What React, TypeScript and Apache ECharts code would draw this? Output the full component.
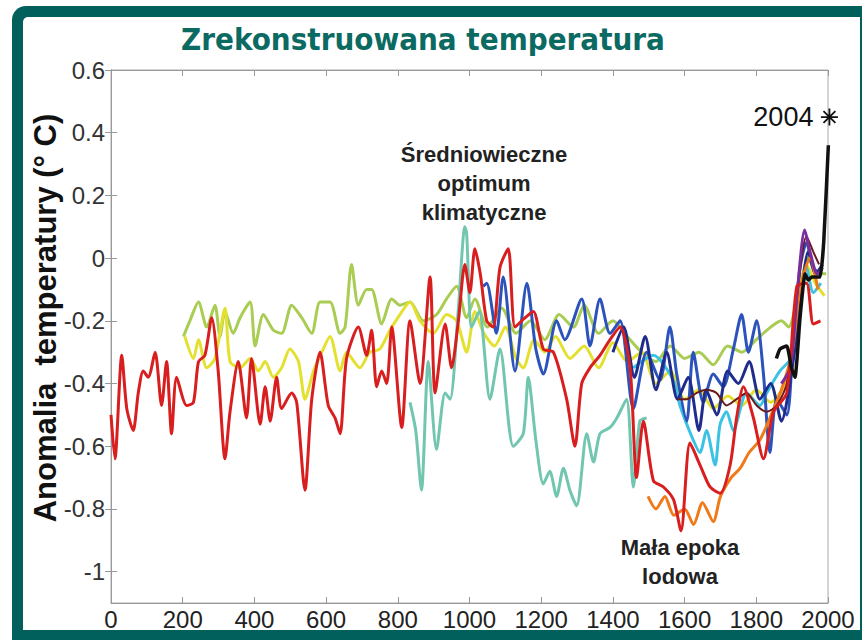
import React, { useEffect, useRef } from "react";
import * as echarts from "echarts";

// ---- data (year, anomaly °C) ----
const redYears = [0, 11, 30, 44, 62, 76, 90, 104, 123, 141, 155, 169, 183, 211, 230, 244, 262, 281, 299, 318, 332, 355, 378, 392, 416, 430, 444, 462, 476, 504, 518, 541, 560, 583, 606, 625, 639, 657, 690, 713, 727, 741, 755, 769, 783, 811, 834, 862, 890, 904, 932, 950, 969, 987, 1001, 1015, 1030, 1048, 1066, 1085, 1108, 1127, 1155, 1178, 1206, 1234, 1271, 1294, 1313, 1336, 1364, 1392, 1420, 1448, 1466, 1485, 1513, 1541, 1569, 1590, 1615, 1643, 1671, 1699, 1727, 1745, 1764, 1792, 1820, 1848, 1885, 1913, 1940, 1959, 1979];
const redVals = [-0.5, -0.64, -0.31, -0.48, -0.55, -0.43, -0.36, -0.38, -0.3, -0.47, -0.33, -0.56, -0.38, -0.47, -0.46, -0.33, -0.31, -0.19, -0.36, -0.64, -0.49, -0.33, -0.51, -0.32, -0.53, -0.41, -0.52, -0.38, -0.48, -0.43, -0.46, -0.74, -0.45, -0.3, -0.47, -0.51, -0.56, -0.32, -0.22, -0.31, -0.23, -0.41, -0.36, -0.4, -0.22, -0.54, -0.2, -0.4, -0.06, -0.43, -0.21, -0.35, -0.2, -0.02, -0.11, 0.03, -0.05, -0.2, -0.22, -0.03, 0.03, -0.22, -0.19, -0.17, -0.29, -0.3, -0.45, -0.6, -0.4, -0.35, -0.31, -0.26, -0.22, -0.35, -0.7, -0.52, -0.71, -0.73, -0.77, -0.87, -0.59, -0.66, -0.73, -0.75, -0.66, -0.51, -0.41, -0.51, -0.64, -0.49, -0.43, -0.09, -0.08, -0.21, -0.2];

const greenYears = [202, 220, 244, 267, 290, 304, 318, 341, 360, 388, 402, 425, 453, 476, 504, 532, 560, 583, 611, 639, 653, 671, 690, 713, 727, 755, 783, 806, 834, 871, 908, 936, 964, 992, 1015, 1050, 1090, 1130, 1170, 1210, 1250, 1290, 1320, 1360, 1400, 1440, 1480, 1520, 1560, 1600, 1640, 1680, 1720, 1760, 1800, 1840, 1870, 1890, 1920, 1945, 1970, 1995];
const greenVals = [-0.25, -0.2, -0.14, -0.22, -0.15, -0.25, -0.17, -0.24, -0.19, -0.14, -0.28, -0.18, -0.23, -0.24, -0.15, -0.19, -0.24, -0.14, -0.14, -0.24, -0.22, -0.02, -0.15, -0.1, -0.1, -0.21, -0.13, -0.15, -0.14, -0.2, -0.18, -0.13, -0.09, -0.19, -0.13, -0.22, -0.16, -0.24, -0.2, -0.26, -0.18, -0.22, -0.15, -0.24, -0.2, -0.25, -0.3, -0.33, -0.28, -0.32, -0.3, -0.34, -0.28, -0.3, -0.26, -0.22, -0.2, -0.22, -0.1, 0.0, -0.05, -0.05];

const yellowYears = [206, 230, 244, 267, 290, 318, 332, 360, 388, 411, 430, 453, 476, 499, 523, 541, 565, 588, 611, 639, 657, 694, 722, 750, 778, 806, 834, 862, 899, 936, 964, 992, 1015, 1040, 1070, 1100, 1130, 1150, 1180, 1210, 1240, 1280, 1320, 1360, 1400, 1440, 1480, 1520, 1560, 1600, 1640, 1680, 1720, 1760, 1800, 1840, 1880, 1910, 1940, 1965, 1990];
const yellowVals = [-0.25, -0.32, -0.26, -0.35, -0.32, -0.16, -0.33, -0.35, -0.32, -0.36, -0.33, -0.38, -0.35, -0.29, -0.33, -0.45, -0.36, -0.3, -0.25, -0.36, -0.3, -0.35, -0.3, -0.29, -0.23, -0.18, -0.14, -0.2, -0.24, -0.18, -0.2, -0.3, -0.17, -0.24, -0.28, -0.22, -0.32, -0.35, -0.26, -0.3, -0.25, -0.32, -0.28, -0.35, -0.27, -0.33, -0.3, -0.4, -0.36, -0.45, -0.42, -0.48, -0.44, -0.47, -0.42, -0.46, -0.4, -0.22, -0.02, -0.08, -0.12];

const tealYears = [834, 850, 866, 885, 908, 932, 946, 969, 987, 992, 1006, 1027, 1057, 1085, 1122, 1150, 1164, 1185, 1206, 1224, 1243, 1262, 1280, 1299, 1327, 1346, 1364, 1392, 1411, 1438, 1457, 1475, 1494];
const tealVals = [-0.46, -0.55, -0.74, -0.33, -0.61, -0.43, -0.45, -0.16, 0.1, 0.08, -0.22, -0.17, -0.45, -0.29, -0.6, -0.56, -0.38, -0.58, -0.72, -0.68, -0.76, -0.67, -0.74, -0.79, -0.56, -0.65, -0.56, -0.54, -0.51, -0.45, -0.73, -0.52, -0.51];

const blueYears = [1038, 1048, 1075, 1094, 1127, 1160, 1185, 1206, 1243, 1266, 1313, 1336, 1364, 1392, 1420, 1457, 1494, 1531, 1559, 1578, 1606, 1624, 1652, 1680, 1708, 1736, 1759, 1778, 1801, 1820, 1838, 1857, 1885, 1904, 1922, 1940, 1959, 1980];
const blueVals = [-0.09, -0.08, -0.24, -0.06, -0.36, -0.08, -0.29, -0.37, -0.2, -0.26, -0.13, -0.28, -0.13, -0.24, -0.2, -0.48, -0.3, -0.39, -0.22, -0.37, -0.52, -0.3, -0.46, -0.37, -0.41, -0.29, -0.18, -0.3, -0.2, -0.37, -0.62, -0.45, -0.5, -0.24, -0.03, 0.05, -0.03, -0.05];

const navyYears = [1400, 1430, 1460, 1490, 1520, 1550, 1580, 1610, 1640, 1660, 1690, 1720, 1750, 1780, 1810, 1840, 1870, 1900, 1925, 1945, 1965, 1985];
const navyVals = [-0.3, -0.22, -0.38, -0.25, -0.42, -0.3, -0.45, -0.38, -0.55, -0.42, -0.5, -0.36, -0.4, -0.33, -0.45, -0.4, -0.52, -0.35, -0.12, 0.02, -0.05, -0.02];

const cyanYears = [1457, 1513, 1569, 1587, 1624, 1643, 1661, 1685, 1699, 1717, 1736, 1773, 1810, 1829, 1866, 1904, 1922, 1940, 1959, 1980];
const cyanVals = [-0.35, -0.31, -0.39, -0.47, -0.58, -0.62, -0.55, -0.66, -0.53, -0.49, -0.55, -0.43, -0.47, -0.43, -0.36, -0.31, -0.15, -0.03, -0.11, -0.08];

const orangeYears = [1498, 1520, 1545, 1570, 1600, 1625, 1650, 1680, 1700, 1730, 1755, 1780, 1810, 1838, 1870, 1900, 1922, 1950, 1972];
const orangeVals = [-0.76, -0.8, -0.76, -0.82, -0.8, -0.85, -0.78, -0.84, -0.76, -0.7, -0.67, -0.62, -0.58, -0.51, -0.42, -0.3, -0.1, 0.0, -0.1];

const brownYears = [1580, 1606, 1634, 1661, 1689, 1717, 1745, 1773, 1801, 1829, 1857, 1885, 1913, 1940, 1959, 1975];
const brownVals = [-0.45, -0.45, -0.43, -0.42, -0.43, -0.47, -0.45, -0.43, -0.47, -0.49, -0.47, -0.4, -0.13, 0.07, 0.02, -0.02];

const purpleYears = [1870, 1895, 1915, 1935, 1950, 1970, 1985];
const purpleVals = [-0.4, -0.35, -0.1, 0.09, 0.02, -0.05, -0.03];

const blackYears = [1856, 1866, 1885, 1898, 1908, 1922, 1936, 1945, 1955, 1968, 1978, 1988, 2001];
const blackVals = [-0.32, -0.29, -0.28, -0.35, -0.38, -0.19, -0.05, -0.07, -0.06, -0.06, -0.06, 0.05, 0.36];

const markYear = 2004;
const markVal = 0.45;

const xTicks = [0, 200, 400, 600, 800, 1000, 1200, 1400, 1600, 1800, 2000];
const yTicks = [-1, -0.8, -0.6, -0.4, -0.2, 0, 0.2, 0.4, 0.6];

const zip = (xs: number[], ys: number[]) => xs.map((x, i) => [x, ys[i]]);

const TEAL = "#02605c";

export default function App() {
  const ref = useRef<HTMLDivElement>(null);
  useEffect(() => {
    if (!ref.current) return;
    const chart = echarts.init(ref.current, null, { renderer: "svg" });
    const line = (name: string, xs: number[], ys: number[], color: string, width = 3) => ({
      name,
      type: "line",
      data: zip(xs, ys),
      smooth: 0.25,
      showSymbol: false,
      symbol: "none",
      lineStyle: { color, width },
      z: 3,
    });
    const tickFmt = (v: number) => (Math.abs(v) < 1e-9 ? "0" : String(+v.toFixed(1)));
    const yAxisCommon = {
      type: "value",
      min: -1.1,
      max: 0.6,
      splitLine: { show: false },
      axisLine: { show: true, lineStyle: { color: "#999", width: 1 } },
      axisTick: { show: true, inside: true, length: 6, customValues: yTicks, lineStyle: { color: "#999" } },
    };
    const xAxisCommon = {
      type: "value",
      min: 0,
      max: 2000,
      interval: 200,
      splitLine: { show: false },
      axisLine: { show: true, onZero: false, lineStyle: { color: "#999", width: 1 } },
      axisTick: { show: true, inside: true, length: 6, lineStyle: { color: "#999" } },
    };
    chart.setOption({
      animation: false,
      backgroundColor: "#ffffff",
      grid: { left: 111, right: 34, top: 70, bottom: 37, show: true, borderColor: "#aaa", borderWidth: 1, backgroundColor: "#fff" },
      xAxis: [
        {
          ...xAxisCommon,
          position: "bottom",
          axisLabel: {
            show: true,
            margin: 4,
            fontSize: 24,
            color: "#222",
            hideOverlap: false,
            showMaxLabel: true,
            showMinLabel: true,
            fontFamily: "'Liberation Sans', Arial, sans-serif",
            customValues: xTicks,
            formatter: (v: number) => String(v),
          },
        },
        { ...xAxisCommon, position: "top", axisLabel: { show: false } },
      ],
      yAxis: [
        {
          ...yAxisCommon,
          position: "left",
          axisLabel: {
            show: true,
            margin: 6,
            fontSize: 24,
            color: "#333",
            fontFamily: "'Liberation Sans', Arial, sans-serif",
            customValues: yTicks,
            formatter: tickFmt,
          },
        },
        { ...yAxisCommon, position: "right", axisLabel: { show: false } },
      ],
      series: [
        line("green", greenYears, greenVals, "#a9cc52"),
        line("yellow", yellowYears, yellowVals, "#e4e030"),
        line("teal", tealYears, tealVals, "#72c6b0"),
        line("cyan", cyanYears, cyanVals, "#3cc2e2"),
        line("blue", blueYears, blueVals, "#2c52bc"),
        line("navy", navyYears, navyVals, "#202c8c"),
        line("orange", orangeYears, orangeVals, "#f07a1a"),
        line("brown", brownYears, brownVals, "#6a1a1a", 2),
        line("purple", purpleYears, purpleVals, "#7a2e9e"),
        line("red", redYears, redVals, "#d81e1e"),
        { ...line("black", blackYears, blackVals, "#111", 3.5), smooth: 0.15, z: 4, clip: false },
        {
          name: "2004",
          type: "scatter",
          clip: false,
          data: [[markYear, markVal]],
          symbol: "path://M10,0L10,20M0,10L20,10M3,3L17,17M3,17L17,3",
          symbolSize: 17,
          itemStyle: { color: "none", borderColor: "#111", borderWidth: 1.8, opacity: 1 },
          label: {
            show: true,
            position: "left",
            distance: 5,
            formatter: "2004",
            fontSize: 27,
            color: "#111",
            opacity: 1,
            fontFamily: "'Liberation Sans', Arial, sans-serif",
          },
          z: 5,
        },
      ],
      graphic: [
        { type: "rect", z: -100, silent: true, shape: { x: 12, y: 6, width: 900, height: 700, r: 14 }, style: { fill: TEAL } },
        { type: "rect", z: -99, silent: true, shape: { x: 23, y: 17, width: 837, height: 613, r: [5, 0, 0, 0] }, style: { fill: "#ffffff" } },
        {
          type: "text",
          z: 100,
          x: 423,
          y: 39,
          style: {
            text: "Zrekonstruowana temperatura",
            fill: "#0b6a62",
            font: "bold 31px 'DejaVu Sans Condensed', 'DejaVu Sans', sans-serif",
            align: "center",
            verticalAlign: "middle",
          },
        },
        {
          type: "text",
          z: 100,
          x: 45,
          y: 318,
          rotation: Math.PI / 2,
          style: {
            text: "Anomalia  temperatury (° C)",
            fill: "#111",
            font: "bold 31px 'Liberation Sans', Arial, sans-serif",
            align: "center",
            verticalAlign: "middle",
          },
        },
        {
          type: "text",
          z: 100,
          x: 484,
          y: 183,
          style: {
            text: "Średniowieczne\noptimum\nklimatyczne",
            fill: "#222",
            font: "bold 22px 'Liberation Sans', Arial, sans-serif",
            lineHeight: 29,
            align: "center",
            verticalAlign: "middle",
          },
        },
        {
          type: "text",
          z: 100,
          x: 680,
          y: 562,
          style: {
            text: "Mała epoka\nlodowa",
            fill: "#222",
            font: "bold 22px 'Liberation Sans', Arial, sans-serif",
            lineHeight: 29,
            align: "center",
            verticalAlign: "middle",
          },
        },
      ],
    });
    return () => chart.dispose();
  }, []);
  return <div ref={ref} style={{ position: "absolute", left: 0, top: 0, width: 862, height: 640 }} />;
}
